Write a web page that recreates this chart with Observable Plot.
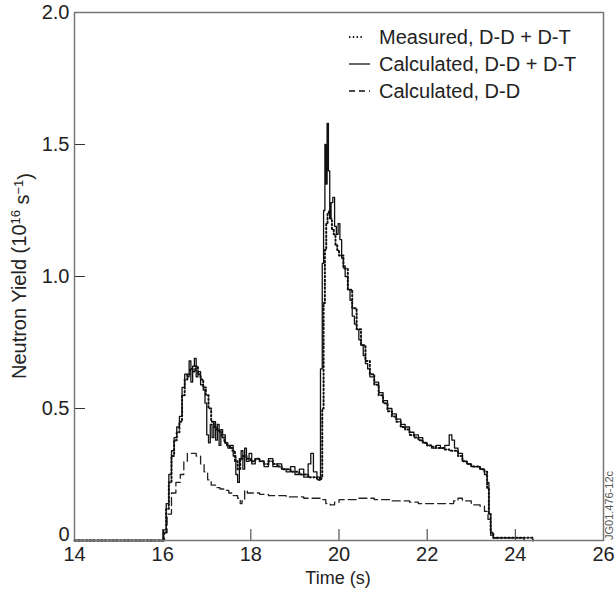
<!DOCTYPE html>
<html>
<head>
<meta charset="utf-8">
<script src="https://cdn.jsdelivr.net/npm/d3@7"></script>
<script src="https://cdn.jsdelivr.net/npm/@observablehq/plot@0.6"></script>
<style>
  html, body { margin: 0; padding: 0; background: #fff; }
  #chart { position: relative; width: 614px; height: 595px; }
</style>
</head>
<body>
<div id="chart"></div>
<script>
// ---- data ----
const xTicks = [14, 16, 18, 20, 22, 24, 26];
const yTicks = [0, 0.5, 1.0, 1.5, 2.0];
const seriesNames = ["Measured, D-D + D-T", "Calculated, D-D + D-T", "Calculated, D-D"];

const tMeas = [14.0,15.98,16.02,16.08,16.14,16.2,16.26,16.32,16.38,16.44,16.5,16.56,16.62,16.68,16.74,16.8,16.86,16.92,16.98,17.04,17.1,17.16,17.22,17.28,17.34,17.4,17.46,17.52,17.58,17.64,17.7,17.76,17.82,17.9,18.0,18.1,18.2,18.3,18.4,18.5,18.6,18.7,18.8,18.9,19.0,19.1,19.2,19.3,19.4,19.5,19.6,19.62,19.65,19.68,19.71,19.74,19.77,19.8,19.84,19.88,19.92,19.96,20.0,20.1,20.2,20.3,20.4,20.5,20.6,20.7,20.8,20.9,21.0,21.1,21.2,21.3,21.4,21.5,21.6,21.7,21.8,21.9,22.0,22.1,22.2,22.3,22.4,22.5,22.6,22.7,22.8,22.9,23.0,23.1,23.2,23.3,23.36,23.4,23.44,23.5,24.4];
const vMeas = [0,0,0.03,0.12,0.22,0.32,0.38,0.41,0.45,0.55,0.61,0.63,0.65,0.64,0.66,0.63,0.61,0.58,0.55,0.50,0.45,0.43,0.42,0.41,0.39,0.37,0.36,0.35,0.34,0.30,0.27,0.31,0.32,0.31,0.30,0.31,0.30,0.29,0.30,0.29,0.28,0.27,0.27,0.26,0.26,0.25,0.25,0.24,0.24,0.23,0.24,0.5,0.9,1.10,1.20,1.24,1.25,1.22,1.18,1.16,1.12,1.10,1.08,1.03,0.95,0.88,0.80,0.74,0.68,0.63,0.59,0.55,0.52,0.49,0.47,0.45,0.43,0.42,0.40,0.39,0.38,0.37,0.36,0.355,0.35,0.35,0.345,0.34,0.34,0.32,0.30,0.29,0.28,0.28,0.27,0.26,0.20,0.10,0.03,0.01,0.0];

const tCalc = [14.0,15.98,16.02,16.08,16.14,16.2,16.26,16.32,16.38,16.44,16.5,16.56,16.6,16.64,16.68,16.72,16.76,16.8,16.86,16.92,16.96,17.0,17.04,17.08,17.12,17.16,17.2,17.24,17.28,17.32,17.36,17.42,17.48,17.54,17.6,17.66,17.7,17.74,17.78,17.82,17.86,17.9,17.96,18.02,18.1,18.2,18.3,18.4,18.5,18.6,18.7,18.8,18.9,19.0,19.1,19.2,19.3,19.36,19.42,19.5,19.56,19.58,19.62,19.65,19.68,19.7,19.73,19.76,19.79,19.82,19.86,19.9,19.94,19.98,20.02,20.06,20.1,20.14,20.2,20.25,20.3,20.35,20.4,20.45,20.5,20.55,20.6,20.65,20.7,20.8,20.9,21.0,21.1,21.2,21.3,21.4,21.5,21.6,21.7,21.8,21.9,22.0,22.1,22.2,22.3,22.4,22.5,22.56,22.62,22.7,22.8,22.9,23.0,23.1,23.2,23.3,23.36,23.4,23.44,23.5,24.2];
const vCalc = [0,0,0.04,0.14,0.25,0.34,0.39,0.43,0.47,0.58,0.63,0.62,0.68,0.60,0.66,0.69,0.62,0.64,0.59,0.57,0.52,0.40,0.37,0.44,0.39,0.45,0.38,0.44,0.36,0.42,0.40,0.37,0.35,0.36,0.32,0.25,0.22,0.31,0.34,0.27,0.35,0.30,0.33,0.29,0.31,0.30,0.28,0.31,0.28,0.29,0.27,0.26,0.28,0.25,0.27,0.24,0.29,0.33,0.26,0.24,0.23,0.65,1.05,1.25,1.50,1.35,1.58,1.40,1.22,1.28,1.30,1.19,1.16,1.20,1.14,1.07,1.04,1.00,0.95,0.91,0.85,0.82,0.80,0.76,0.74,0.70,0.67,0.65,0.62,0.60,0.56,0.53,0.50,0.48,0.46,0.44,0.43,0.41,0.40,0.39,0.37,0.36,0.35,0.36,0.35,0.36,0.40,0.38,0.35,0.33,0.30,0.29,0.28,0.28,0.27,0.25,0.22,0.10,0.02,0.01,0.0];

const tDD = [14.0,16.0,16.04,16.1,16.2,16.3,16.4,16.48,16.56,16.66,16.76,16.86,16.94,17.02,17.1,17.2,17.3,17.4,17.5,17.6,17.7,17.76,17.8,17.86,17.92,18.0,18.2,18.4,18.6,18.8,19.0,19.2,19.4,19.6,19.7,19.8,19.9,20.0,20.2,20.4,20.6,20.8,21.0,21.2,21.4,21.6,21.8,22.0,22.2,22.4,22.6,22.7,22.8,23.0,23.2,23.3,23.38,23.44,23.5,23.6];
const vDD = [0,0,0.03,0.10,0.18,0.22,0.25,0.30,0.33,0.33,0.32,0.29,0.26,0.23,0.21,0.20,0.195,0.19,0.18,0.17,0.16,0.14,0.15,0.19,0.18,0.18,0.175,0.17,0.17,0.165,0.165,0.16,0.16,0.155,0.14,0.135,0.145,0.155,0.155,0.16,0.16,0.155,0.155,0.15,0.15,0.145,0.14,0.14,0.14,0.14,0.15,0.16,0.15,0.135,0.13,0.11,0.08,0.03,0.01,0];

const zip = (ts, vs) => ts.map((t, i) => ({t, v: vs[i]}));
const meas = zip(tMeas, vMeas);
const calc = zip(tCalc, vCalc);
const dd = zip(tDD, vDD);

const FONT = "'Liberation Sans', Arial, Helvetica, sans-serif";
const W = 614, H = 595, ML = 74, MR = 11, MT = 12, MB = 55;
const TICK = 11;
const innerW = W - ML - MR, innerH = H - MT - MB;

const plot = Plot.plot({
  width: W,
  height: H,
  marginLeft: ML,
  marginRight: MR,
  marginTop: MT,
  marginBottom: MB,
  style: {fontFamily: FONT, fontSize: "20px", color: "#222", background: "#fff"},
  x: {domain: [14, 26]},
  y: {domain: [0, 2]},
  marks: [
    Plot.line(dd, {x: "t", y: "v", curve: "step-after", stroke: "#222", strokeWidth: 1.3, strokeDasharray: "8,4"}),
    Plot.line(calc, {x: "t", y: "v", curve: "step-after", stroke: "#111", strokeWidth: 1.3}),
    Plot.line(meas, {x: "t", y: "v", curve: "step-after", stroke: "#111", strokeWidth: 2, strokeDasharray: "1.4,2.4"}),
    // inward ticks
    Plot.ruleX(xTicks.slice(1, -1), {x: d => d, insetTop: innerH - TICK, stroke: "#333", strokeWidth: 1}),
    Plot.ruleY(yTicks.slice(1, -1), {y: d => d, insetRight: innerW - TICK, stroke: "#333", strokeWidth: 1}),
    Plot.frame({stroke: "#777", strokeWidth: 1.5}),
    Plot.axisX(xTicks, {tickSize: 0, tickPadding: 6, label: null, tickFormat: d => String(d), fill: "#222"}),
    Plot.axisY(yTicks.slice(1), {tickSize: 0, tickPadding: 5, label: null, tickFormat: d => d.toFixed(1), fill: "#222"}),
    Plot.axisY([0], {tickSize: 0, tickPadding: 5, label: null, tickFormat: d => "0", dy: -6, fill: "#222"})
  ]
});

document.getElementById("chart").appendChild(plot);

const svg = d3.select(plot);

// axis titles
svg.append("text")
  .attr("x", 338).attr("y", 584)
  .attr("text-anchor", "middle")
  .style("font-family", FONT).style("font-size", "18px").attr("fill", "#222")
  .text("Time (s)");

const yl = svg.append("text")
  .attr("transform", "translate(26,276) rotate(-90)")
  .attr("text-anchor", "middle")
  .style("font-family", FONT).style("font-size", "20px").attr("fill", "#222");
yl.append("tspan").text("Neutron Yield (10");
yl.append("tspan").attr("dy", "-0.45em").style("font-size", "13px").text("16");
yl.append("tspan").attr("dy", "0.45em").text(" s");
yl.append("tspan").attr("dy", "-0.45em").style("font-size", "13px").text("\u22121");
yl.append("tspan").attr("dy", "0.45em").text(")");

// figure id
svg.append("text")
  .attr("transform", "translate(613,540) rotate(-90)")
  .attr("text-anchor", "start")
  .style("font-family", FONT).style("font-size", "11px").attr("fill", "#555")
  .text("JG01.476-12c");

// legend
const legend = svg.append("g")
  .attr("text-anchor", "start")
  .style("font-family", FONT).style("font-size", "20px");
const legRows = [
  {name: seriesNames[0], dash: "1.4,2.4", w: 2, x2: 363},
  {name: seriesNames[1], dash: null, w: 1.3, x2: 370},
  {name: seriesNames[2], dash: "6,4", w: 1.3, x2: 370}
];
legRows.forEach((r, i) => {
  const cy = 37 + i * 27;
  const ln = legend.append("line").attr("x1", 349).attr("x2", r.x2).attr("y1", cy).attr("y2", cy)
    .attr("stroke", "#111").attr("stroke-width", r.w);
  if (r.dash) ln.attr("stroke-dasharray", r.dash);
  legend.append("text").attr("x", 379).attr("y", cy).attr("dy", "0.35em")
    .attr("text-anchor", "start").attr("fill", "#222").text(r.name);
});
</script>
</body>
</html>
